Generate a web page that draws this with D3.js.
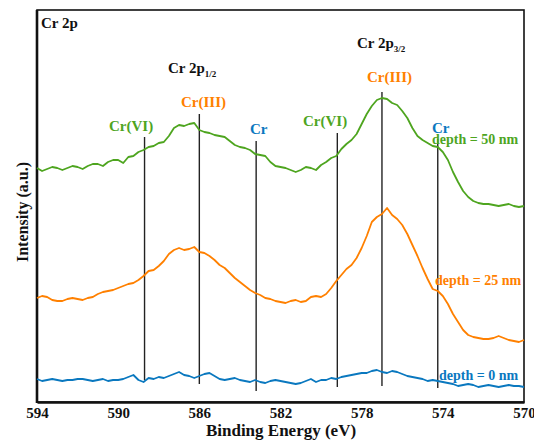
<!DOCTYPE html>
<html><head><meta charset="utf-8">
<script src="https://cdn.jsdelivr.net/npm/d3@7"></script>
<style>html,body{margin:0;padding:0;background:#fff;}svg{display:block;}</style>
</head><body>
<svg id="chart" width="534" height="441"></svg>
<script>
// Binding energy grid (eV): 594 -> 570 in 0.25 eV steps
const energyStart = 594, energyStep = 0.25, nPoints = 97;
const energies = Array.from({length: nPoints}, (_, i) => energyStart - i * energyStep);

// Intensity (a.u.) for each depth
const depth50 = [234,231,233,235,234,232,234,236,235,233,
  236,238,238,236,240,242,242,239,245,246,
  250,252,255,256,259,260,266,274,277,276,
  278,279,272,270,269,267,266,265,261,257,
  255,254,252,248,247,246,240,236,235,234,
  232,230,232,235,234,232,237,240,244,246,
  253,258,262,268,278,288,296,302,304,303,
  299,297,291,284,274,266,262,259,256,255,
  250,242,230,220,211,205,201,199,198,198,
  197,196,197,198,196,195,196];
const depth25 = [104,106,105,102,101,101,103,104,103,102,
  104,105,108,110,111,112,114,116,118,119,
  122,126,131,132,136,141,148,152,154,152,
  153,155,150,149,146,142,137,134,129,124,
  120,116,112,109,107,104,103,101,100,99,
  101,102,100,101,105,106,105,108,114,121,
  127,133,137,144,154,166,180,185,188,194,
  187,183,177,168,157,146,134,123,113,111,
  106,98,88,80,72,67,65,64,63,63,
  64,66,64,62,61,60,62];
const depth0 = [23,21,22,23,22,21,22,22,23,23,
  22,21,22,23,21,22,22,23,25,27,
  22,20,24,23,25,24,26,28,30,27,
  26,24,26,28,29,26,23,22,23,24,
  22,21,20,22,20,19,21,22,21,20,
  19,18,19,21,23,20,22,22,24,23,
  25,26,27,28,29,29,31,32,30,29,
  31,30,28,26,25,24,23,21,22,21,
  20,19,18,16,17,18,17,15,16,17,
  16,15,16,17,16,16,15];

const seriesNames = ["depth = 50 nm", "depth = 25 nm", "depth = 0 nm"];
const seriesColors = ["#4ea51f", "#ff8000", "#0a78bf"];
const xTicks = [594, 590, 586, 582, 578, 574, 570];

// Reference peak positions (eV) and vertical line extents (a.u.)
const peakEnergies = [588.7, 586.0, 583.2, 579.2, 577.0, 574.25];
const peakTop = [265, 288, 261, 269, 310, 263];
const peakBottom = [22, 18, 11, 15, 16, 14];

const svg = d3.select("#chart");
const pLeft = 37, pRight = 524, pTop = 10, pBottom = 402;
const x = d3.scaleLinear().domain([594, 570]).range([pLeft, pRight]);
const y = d3.scaleLinear().domain([0, 392]).range([pBottom, pTop]);

const font = "'Liberation Serif','Times New Roman',serif";

// frame
svg.append("rect").attr("x", pLeft).attr("y", pTop).attr("width", pRight - pLeft).attr("height", pBottom - pTop)
  .attr("fill", "none").attr("stroke", "#111").attr("stroke-width", 1.6);
svg.append("line").attr("x1", pLeft).attr("x2", pLeft).attr("y1", pTop).attr("y2", pBottom + 1)
  .attr("stroke", "#111").attr("stroke-width", 2.6);

// x axis
const xAxis = d3.axisBottom(x).tickValues(xTicks).tickSize(0).tickPadding(5).tickFormat(d3.format("d"));
const gx = svg.append("g").attr("transform", `translate(0,${pBottom})`).call(xAxis);
gx.select(".domain").attr("stroke", "#111").attr("stroke-width", 2.6);
gx.selectAll("text").attr("font-family", font).attr("font-weight", "bold").attr("font-size", 15).attr("fill", "#111");

// axis titles
svg.append("text").attr("x", 281).attr("y", 436).attr("text-anchor", "middle")
  .attr("font-family", font).attr("font-weight", "bold").attr("font-size", 17).attr("fill", "#111")
  .text("Binding Energy (eV)");
svg.append("text").attr("transform", "translate(28,212) rotate(-90)").attr("text-anchor", "middle")
  .attr("font-family", font).attr("font-weight", "bold").attr("font-size", 16).attr("fill", "#111")
  .text("Intensity (a.u.)");

// vertical reference lines
svg.append("g").selectAll("line").data(peakEnergies).join("line")
  .attr("x1", d => x(d)).attr("x2", d => x(d))
  .attr("y1", (d, i) => y(peakTop[i])).attr("y2", (d, i) => y(peakBottom[i]))
  .attr("stroke", "#222").attr("stroke-width", 1.4);

// curves
const allSeries = [depth50, depth25, depth0];
const line = d3.line().x((d, i) => x(energies[i])).y(d => y(d));
svg.append("g").selectAll("path").data(allSeries).join("path")
  .attr("d", d => line(d)).attr("fill", "none")
  .attr("stroke", (d, i) => seriesColors[i]).attr("stroke-width", 1.8).attr("stroke-linejoin", "round");

// annotations
function label(txt, px, py, color, size, anchor) {
  return svg.append("text").attr("x", px).attr("y", py).attr("text-anchor", anchor || "start")
    .attr("font-family", font).attr("font-weight", "bold").attr("font-size", size).attr("fill", color).text(txt);
}
label("Cr 2p", 41, 28, "#111", 15);
const t1 = label("Cr 2p", 168, 73, "#111", 15);
t1.append("tspan").attr("font-size", 9).attr("dy", 4).text("1/2");
const t2 = label("Cr 2p", 357, 48, "#111", 15);
t2.append("tspan").attr("font-size", 9).attr("dy", 4).text("3/2");

label("Cr(VI)", 109, 131, seriesColors[0], 15);
label("Cr(III)", 181, 107, seriesColors[1], 15);
label("Cr", 250, 134, seriesColors[2], 15);
label("Cr(VI)", 303, 126, seriesColors[0], 15);
label("Cr(III)", 367, 82, seriesColors[1], 15);
label("Cr", 432, 133, seriesColors[2], 15);

label(seriesNames[0], 432, 144, seriesColors[0], 14);
label(seriesNames[1], 435, 285, seriesColors[1], 14);
label(seriesNames[2], 439, 380, seriesColors[2], 14);
</script>
</body></html>
